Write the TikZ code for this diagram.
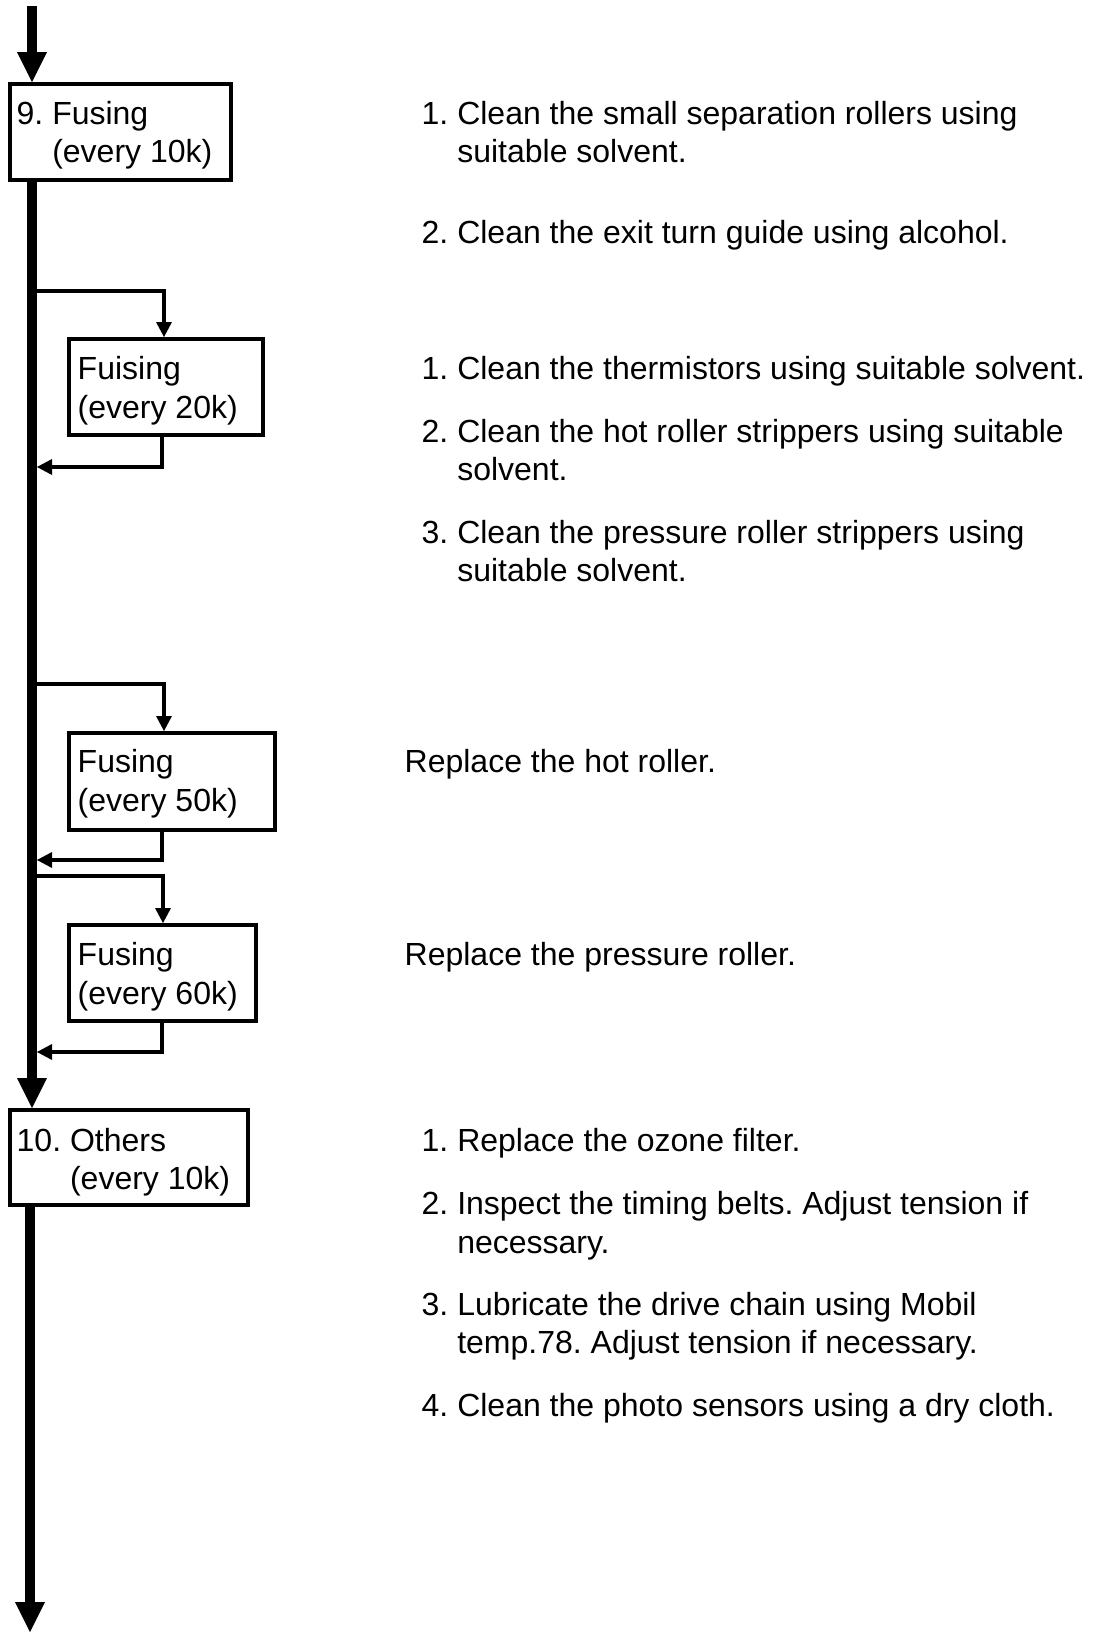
\documentclass[tikz,border=0pt]{standalone}
\usepackage{fontspec}
\setmainfont{Liberation Sans}
\usetikzlibrary{arrows.meta}
\frenchspacing
\begin{document}
\begin{tikzpicture}[x=1pt,y=-1pt,
  box/.style={draw, line width=4pt, rectangle, inner sep=0pt},
  txt/.style={anchor=base west, inner sep=0pt, font=\fontsize{32}{38.5}\selectfont},
  mainflow/.style={line width=10pt, -{Triangle[width=30pt,length=30pt,line width=0pt]}},
  subflow/.style={line width=4pt, -{Triangle[width=16pt,length=15pt,line width=0pt]}}]
\useasboundingbox (0,0) rectangle (1094,1633);

% boxes
\node[box, minimum width=221pt, minimum height=96pt] (b9) at (120.5,132) {};
\node[box, minimum width=194pt, minimum height=96pt] (b20) at (166,387) {};
\node[box, minimum width=206pt, minimum height=97pt] (b50) at (172,781.5) {};
\node[box, minimum width=187pt, minimum height=96pt] (b60) at (162.5,973) {};
\node[box, minimum width=238pt, minimum height=95pt] (b10) at (129,1157.5) {};

% box texts
\node[txt] (t9a) at (16.5,124) {9. Fusing};
\node[txt] (t9b) at (16.5,162.5) {\hphantom{9. }(every 10k)};
\node[txt] (t20a) at (77.5,379.5) {Fuising};
\node[txt] (t20b) at (77.5,418) {(every 20k)};
\node[txt] (t50a) at (77.5,772.5) {Fusing};
\node[txt] (t50b) at (77.5,811) {(every 50k)};
\node[txt] (t60a) at (77.5,965.5) {Fusing};
\node[txt] (t60b) at (77.5,1004) {(every 60k)};
\node[txt] (t10a) at (16.5,1151) {10. Others};
\node[txt] (t10b) at (16.5,1189.5) {\hphantom{10. }(every 10k)};

% main flow
\coordinate (top) at (32,6);
\coordinate (bot) at (30,1632);
\draw[mainflow] (top) -- (top |- b9.north);
\draw[mainflow] (top |- b9.south) -- (top |- b10.north);
\draw[mainflow] (bot |- b10.south) -- (bot);

% branches
\coordinate (s20) at (32,291);
\coordinate (r20) at (37,467);
\coordinate (s50) at (32,683.5);
\coordinate (r50) at (37,860);
\coordinate (s60) at (32,875.5);
\coordinate (r60) at (37,1052);
\draw[subflow] (s20) -| ([xshift=-2pt]b20.north);
\draw[subflow] ([xshift=-4pt]b20.south) |- (r20);
\draw[subflow] (s50) -| ([xshift=-8pt]b50.north);
\draw[subflow] ([xshift=-10pt]b50.south) |- (r50);
\draw[subflow] (s60) -| ([xshift=0.5pt]b60.north);
\draw[subflow] ([xshift=-0.5pt]b60.south) |- (r60);

% right-hand texts
\node[txt] (a1) at (421.5,124) {1. Clean the small separation rollers using};
\node[txt] (a1b) at (421.5,162.5) {\hphantom{1. }suitable solvent.};
\node[txt] (a2) at (421.5,243.5) {2. Clean the exit turn guide using alcohol.};

\node[txt] (c1) at (421.5,379.5) {1. Clean the thermistors using suitable solvent.};
\node[txt] (c2) at (421.5,442) {2. Clean the hot roller strippers using suitable};
\node[txt] (c2b) at (421.5,480.5) {\hphantom{2. }solvent.};
\node[txt] (c3) at (421.5,543) {3. Clean the pressure roller strippers using};
\node[txt] (c3b) at (421.5,581.5) {\hphantom{3. }suitable solvent.};

\node[txt] (d1) at (404.5,772.5) {Replace the hot roller.};
\node[txt] (e1) at (404.5,965.5) {Replace the pressure roller.};

\node[txt] (f1) at (421.5,1151) {1. Replace the ozone filter.};
\node[txt] (f2) at (421.5,1214.5) {2. Inspect the timing belts. Adjust tension if};
\node[txt] (f2b) at (421.5,1253) {\hphantom{2. }necessary.};
\node[txt] (f3) at (421.5,1315) {3. Lubricate the drive chain using Mobil};
\node[txt] (f3b) at (421.5,1353.5) {\hphantom{3. }temp.78. Adjust tension if necessary.};
\node[txt] (f4) at (421.5,1416) {4. Clean the photo sensors using a dry cloth.};
\end{tikzpicture}
\end{document}
